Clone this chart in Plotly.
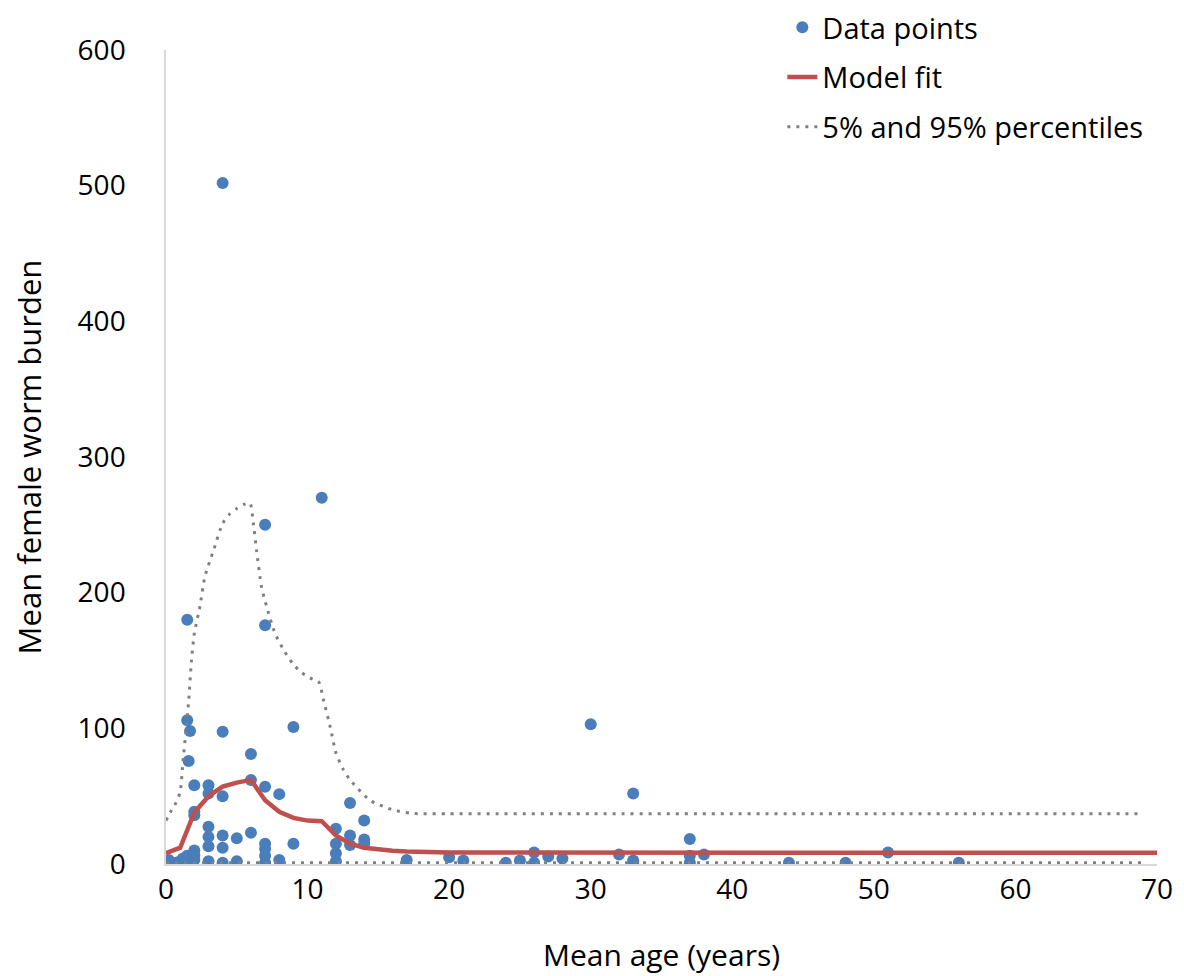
import plotly.graph_objects as go

# ---- data points (mean age, mean female worm burden) ----
ages = [0.2, 0.3, 0.5, 0.7, 0.9, 1.0, 1.2, 1.3, 1.5, 1.6, 1.8, 1.9, 2, 2, 2,
        1.5, 1.5, 1.7, 1.6, 2, 2, 2,
        3, 3, 3, 3, 3, 3,
        4, 4, 4, 4, 4, 4,
        5, 5,
        6, 6, 6,
        7, 7, 7, 7, 7, 7, 7,
        8, 8,
        9, 9,
        11,
        12, 12, 12, 12,
        13, 13, 13,
        14, 14, 14,
        17, 20, 21, 24, 25, 26, 26, 27, 28, 30, 32, 33, 33, 33,
        37, 37, 37, 38, 44, 48, 51, 56]
burdens = [3, 1, 0, 1, 0, 2, 4, 1, 6, 2, 0, 4, 10, 6.5, 3,
           180, 106, 98, 76, 58, 38.5, 36,
           58, 52, 27.5, 20, 13, 2,
           502, 97.5, 50, 21, 12, 1,
           19, 2,
           81, 62, 23,
           250, 176, 57, 15, 11, 6, 1,
           51.5, 3,
           101, 15,
           270,
           26, 15, 8, 2,
           45, 21, 14,
           32, 18, 15,
           3, 5, 2.5, 1, 2.5, 8.5, 1, 5.5, 4, 103, 7, 52, 2.5, 0.5,
           18.5, 6, 1, 7, 1, 1, 8.5, 1]

# ---- model fit ----
fit_ages = [0, 1, 2, 3, 4, 5, 6, 7, 8, 9, 10, 11, 12, 13, 14, 15, 16, 17, 18,
            19, 20, 25, 30, 40, 50, 60, 70]
fit_vals = [8, 12, 38, 50, 57, 60, 62, 47, 38.5, 34, 32, 31.5, 21, 15, 12,
            10.5, 9.7, 9.2, 8.8, 8.6, 8.5, 8.4, 8.3, 8.3, 8.3, 8.3, 8.3]

# ---- 5% and 95% percentiles ----
pct_ages = [0, 0.3, 0.7, 1.0, 1.2, 1.4, 1.6, 1.8, 2.0, 2.4, 2.75, 3.35, 4.0,
            4.5, 5.0, 5.5, 5.93, 6.17, 6.4, 6.75, 7.1, 7.7, 8.3, 9.0, 9.6,
            10.2, 10.8, 11.1, 11.6, 12.0, 12.5, 13.0, 14.4, 16.0, 17.2,
            18.0, 20, 30, 40, 50, 60, 69]
pct_upper = [32, 38, 45, 53, 76, 97, 120, 150, 170, 190, 212, 231, 251,
             258, 262, 265, 266, 251, 231, 204, 190, 170, 158, 147, 141,
             137, 134, 122, 101, 82, 70, 62, 47, 40, 37.5,
             37, 37, 37, 37, 37, 37, 37]
pct_lower_ages = [0, 69]
pct_lower = [1, 1]

BLUE = "#4A7EBB"
RED = "#C0504D"
GREY = "#808080"
FONT = "Open Sans"

fig = go.Figure()

fig.add_trace(go.Scatter(
    x=ages, y=burdens, mode="markers", name="Data points",
    marker=dict(color=BLUE, size=12, line=dict(width=0)),
    legendgroup="a",
))
fig.add_trace(go.Scatter(
    x=fit_ages, y=fit_vals, mode="lines", name="Model fit",
    line=dict(color=RED, width=4.5),
    legendgroup="b",
))
fig.add_trace(go.Scatter(
    x=pct_ages, y=pct_upper, mode="lines", name="5% and 95% percentiles",
    line=dict(color=GREY, width=3, dash="3px,6px", shape="spline", smoothing=0.6),
    legendgroup="c",
))
fig.add_trace(go.Scatter(
    x=pct_lower_ages, y=pct_lower, mode="lines", name="5% and 95% percentiles",
    line=dict(color=GREY, width=3, dash="3px,6px"),
    legendgroup="c", showlegend=False,
))

fig.update_layout(
    width=1184, height=976,
    paper_bgcolor="white", plot_bgcolor="white",
    margin=dict(l=158, r=35, t=42, b=120, autoexpand=False),
    font=dict(family=FONT, size=28, color="black"),
    showlegend=True,
    legend=dict(
        x=0.654, y=1.059, xref="container", yref="paper",
        xanchor="left", yanchor="top",
        font=dict(family=FONT, size=29, color="black"),
        bgcolor="rgba(255,255,255,0)",
        tracegroupgap=9, itemwidth=30,
    ),
    xaxis=dict(
        range=[0, 70], tickvals=[0, 10, 20, 30, 40, 50, 60, 70],
        showgrid=False, zeroline=False,
        showline=True, linecolor="#D9D9D9", linewidth=1.5,
        ticks="", tickfont=dict(family=FONT, size=28),
        title=dict(text="Mean age (years)", font=dict(family=FONT, size=30), standoff=39),
    ),
    yaxis=dict(
        range=[0, 600], tickvals=[0, 100, 200, 300, 400, 500, 600],
        showgrid=False, zeroline=False,
        showline=True, linecolor="#D9D9D9", linewidth=1.5,
        ticks="", ticklabelstandoff=33, tickfont=dict(family=FONT, size=28),
        title=dict(text="Mean female worm burden", font=dict(family=FONT, size=31), standoff=34),
    ),
)

fig.write_html("out.html")
